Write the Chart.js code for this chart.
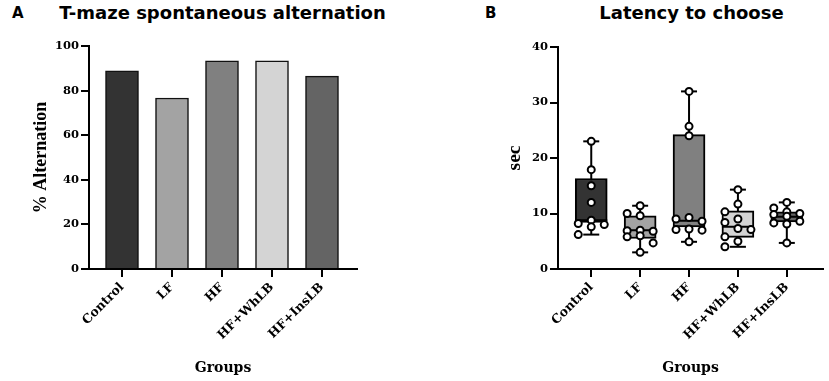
<!DOCTYPE html>
<html>
<head>
<meta charset="utf-8">
<script src="https://cdn.jsdelivr.net/npm/chart.js@4.4.1/dist/chart.umd.min.js"></script>
<style>
  html, body { margin: 0; padding: 0; background: #fff; }
  body { width: 829px; height: 381px; position: relative; overflow: hidden; }
  .panel { position: absolute; top: 0; height: 381px; }
  .lbl { position: absolute; top: 6px; font: bold 15px "DejaVu Sans"; line-height: 15px; color: #000; }
  .ttl { position: absolute; top: 2px; width: 420px; text-align: center; font: bold 18px "DejaVu Sans"; line-height: 21px; color: #000; white-space: nowrap; }
</style>
</head>
<body>
<div class="lbl" style="left:12px">A</div>
<div class="lbl" style="left:485px">B</div>
<div class="ttl" style="left:12.5px">T-maze spontaneous alternation</div>
<div class="ttl" style="left:481.5px">Latency to choose</div>
<div class="panel" style="left:0;width:415px"><canvas id="chartA"></canvas></div>
<div class="panel" style="left:415px;width:414px"><canvas id="chartB"></canvas></div>
<script>
// ---------- data ----------
const categories = ['Control', 'LF', 'HF', 'HF+WhLB', 'HF+InsLB'];
const groupColors = ['#333333', '#a3a3a3', '#808080', '#d4d4d4', '#646464'];

// Panel A: % alternation
const alternationPct = [88.9, 76.7, 93.4, 93.4, 86.5];
const yTicksA = [0, 20, 40, 60, 80, 100];

// Panel B: latency (sec), individual animals
const latControl = [23.0, 17.9, 15.0, 12.0, 8.8, 8.2, 8.0, 7.6, 6.2];
const latLF      = [11.4, 10.0, 9.6, 7.0, 6.9, 6.8, 6.0, 5.8, 4.7, 3.0];
const latHF      = [32.0, 25.7, 24.0, 9.3, 9.0, 8.6, 7.2, 7.1, 7.0, 4.9];
const latWhLB    = [14.3, 11.7, 10.3, 9.0, 8.4, 7.3, 7.1, 5.8, 5.0, 4.0];
const latInsLB   = [12.0, 11.0, 10.3, 10.0, 9.8, 9.5, 8.6, 8.3, 8.1, 4.7];
// box-plot statistics
const boxMin    = [6.2, 3.0, 4.9, 4.0, 4.7];
const boxQ1     = [8.4, 5.5, 7.6, 5.7, 8.5];
const boxMedian = [8.8, 7.0, 8.7, 7.6, 9.4];
const boxQ3     = [16.3, 9.6, 24.2, 10.5, 10.3];
const boxMax    = [23.0, 11.4, 32.0, 14.3, 12.0];
const yTicksB = [0, 10, 20, 30, 40];

// ---------- helpers ----------
const BLACK = '#000';
const serifBold = (size) => ({ family: 'DejaVu Serif', weight: 'bold', size });
const fixedTicks = (arr) => (s) => { s.ticks = arr.map(v => ({ value: v })); };

function xScale(min, max) {
  return {
    type: 'linear', min, max, offset: false,
    afterBuildTicks: fixedTicks(categories.map((_, i) => i)),
    afterFit(s) { s.height = 112; s.paddingLeft = 0; s.paddingRight = 0; },
    ticks: { callback: (v) => categories[v], minRotation: 45, maxRotation: 45, autoSkip: false,
             font: serifBold(12.5), color: BLACK, padding: 3 },
    grid: { offset: false, drawOnChartArea: false, tickLength: 8, color: BLACK, lineWidth: 2 },
    border: { color: BLACK, width: 2 },
    title: { display: true, text: 'Groups', font: serifBold(14), color: BLACK, padding: { top: 0, bottom: 4.6 } }
  };
}
function yScale(max, tickArr, title, width, titlePad, titleSize) {
  return {
    type: 'linear', min: 0, max,
    afterBuildTicks: fixedTicks(tickArr),
    afterFit(s) { s.width = width; s.paddingTop = 0; s.paddingBottom = 0; },
    ticks: { font: serifBold(11.5), color: BLACK, padding: 2 },
    grid: { drawOnChartArea: false, tickLength: 8, color: BLACK, lineWidth: 2 },
    border: { color: BLACK, width: 2 },
    title: { display: true, text: title, color: BLACK,
             font: { family: 'Liberation Serif', weight: 'bold', size: titleSize },
             padding: { top: titlePad, bottom: 0 } }
  };
}

// ---------- Panel A ----------
new Chart(document.getElementById('chartA'), {
  type: 'bar',
  data: {
    datasets: [{
      data: alternationPct.map((v, i) => ({ x: i, y: v })),
      backgroundColor: groupColors,
      borderColor: '#111',
      borderWidth: 1.5,
      borderSkipped: 'bottom',
      barThickness: 33
    }]
  },
  options: {
    responsive: true, maintainAspectRatio: false, animation: false,
    layout: { padding: { left: 0, right: 58, top: 46, bottom: 0 } },
    plugins: { legend: { display: false }, tooltip: { enabled: false }, title: { display: false } },
    scales: { x: xScale(-0.66, 4.7), y: yScale(100, yTicksA, '% Alternation', 89, 30.2, 18) }
  }
});

// ---------- Panel B ----------
const groups = [latControl, latLF, latHF, latWhLB, latInsLB];
// simple beeswarm spreading of overlapping points (three columns)
const PX_X = 50, PX_Y = 5.575, STEP = 0.266, MIN_D = 8.5;
const points = [];
groups.forEach((vals, gi) => {
  const placed = [];
  vals.forEach(v => {
    let best = null, bestD = -1;
    for (const k of [0, -1, 1]) {
      const off = k * STEP;
      const d = placed.reduce((m, p) => Math.min(m, Math.hypot((p.off - off) * PX_X, (p.v - v) * PX_Y)), Infinity);
      if (d >= MIN_D) { best = off; break; }
      if (d > bestD) { bestD = d; best = off; }
    }
    placed.push({ off: best, v });
    points.push({ x: gi + best, y: v });
  });
});

const boxPlugin = {
  id: 'boxWhisk',
  beforeDatasetsDraw(chart) {
    const { ctx, scales: { x, y } } = chart;
    ctx.save();
    ctx.strokeStyle = BLACK; ctx.lineWidth = 2;
    categories.forEach((_, i) => {
      const cx = x.getPixelForValue(i);
      ctx.beginPath();
      ctx.moveTo(cx, y.getPixelForValue(boxMin[i]));
      ctx.lineTo(cx, y.getPixelForValue(boxMax[i]));
      ctx.stroke();
      [boxMin[i], boxMax[i]].forEach(v => {
        const py = y.getPixelForValue(v);
        ctx.beginPath(); ctx.moveTo(cx - 8, py); ctx.lineTo(cx + 8, py); ctx.stroke();
      });
    });
    ctx.restore();
  },
  afterDatasetDraw(chart, args) {
    if (args.meta.type !== 'bar') return;
    const { ctx, scales: { x, y } } = chart;
    ctx.save();
    ctx.strokeStyle = BLACK; ctx.lineWidth = 2;
    categories.forEach((_, i) => {
      const cx = x.getPixelForValue(i);
      const py = y.getPixelForValue(boxMedian[i]);
      ctx.beginPath(); ctx.moveTo(cx - 16, py); ctx.lineTo(cx + 16, py); ctx.stroke();
    });
    ctx.restore();
  }
};

new Chart(document.getElementById('chartB'), {
  type: 'bar',
  data: {
    datasets: [
      {
        type: 'scatter', order: 1,
        data: points,
        pointRadius: 3.5, pointBackgroundColor: '#fff', pointBorderColor: BLACK, pointBorderWidth: 2
      },
      {
        type: 'bar', order: 2,
        data: categories.map((_, i) => ({ x: i, y: [boxQ1[i], boxQ3[i]] })),
        backgroundColor: groupColors, borderColor: BLACK, borderWidth: 2,
        borderSkipped: false, barThickness: 32
      }
    ]
  },
  options: {
    responsive: true, maintainAspectRatio: false, animation: false,
    layout: { padding: { left: 0, right: 0, top: 47, bottom: 0 } },
    plugins: { legend: { display: false }, tooltip: { enabled: false }, title: { display: false } },
    scales: { x: xScale(-0.68, 4.74), y: yScale(40, yTicksB, 'sec', 143, 88.6, 19.5) }
  },
  plugins: [boxPlugin]
});
</script>
</body>
</html>
